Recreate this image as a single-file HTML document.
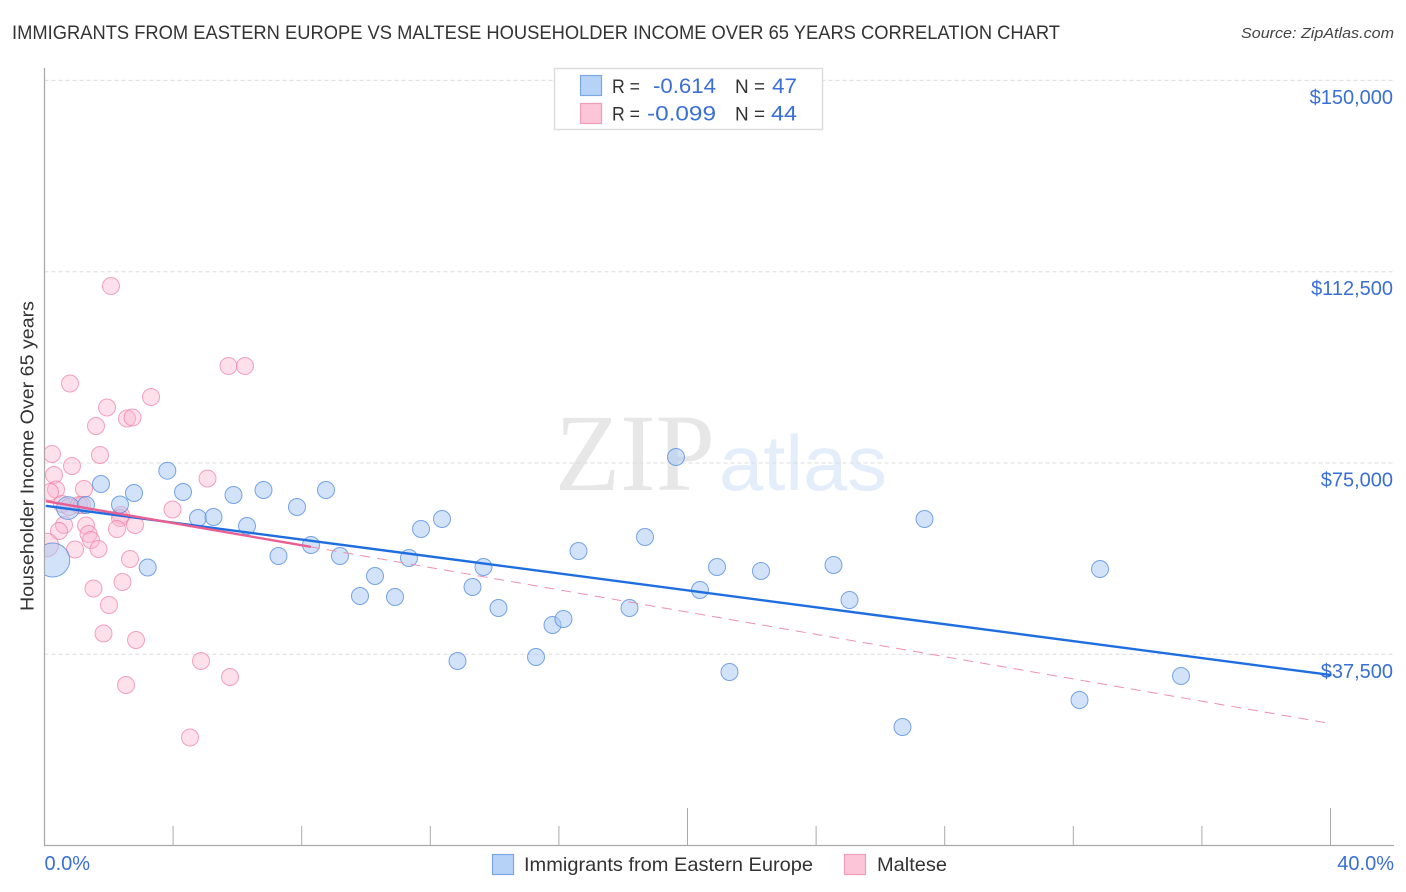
<!DOCTYPE html>
<html lang="en">
<head>
<meta charset="utf-8">
<title>Immigrants from Eastern Europe vs Maltese Householder Income Over 65 Years Correlation Chart</title>
<style>
html,body{margin:0;padding:0;background:#fff;width:1406px;height:892px;overflow:hidden}
svg{display:block;font-family:"Liberation Sans",Arial,sans-serif}
</style>
</head>
<body>
<svg id="chart" width="1406" height="892" viewBox="0 0 1406 892" xmlns="http://www.w3.org/2000/svg">
  <defs>
    <clipPath id="plot-clip"><rect x="45" y="60" width="1360" height="785"></rect></clipPath>
  </defs>
  <rect x="0" y="0" width="1406" height="892" fill="#ffffff"></rect>

  <text x="12" y="39" font-size="19" fill="#333333" textLength="1048" lengthAdjust="spacingAndGlyphs">IMMIGRANTS FROM EASTERN EUROPE VS MALTESE HOUSEHOLDER INCOME OVER 65 YEARS CORRELATION CHART</text>
  <text x="1241" y="38" font-size="15" font-style="italic" fill="#444444" textLength="153" lengthAdjust="spacingAndGlyphs">Source: ZipAtlas.com</text>

  <g>
    <text x="555" y="490" font-family="'Liberation Serif',serif" font-size="110" fill="#e7e7e7" textLength="160" lengthAdjust="spacingAndGlyphs">ZIP</text>
    <text x="719" y="490" font-size="78" fill="#e4edfa" textLength="168" lengthAdjust="spacingAndGlyphs">atlas</text>
  </g>

  <g id="grid"></g>
  <g id="axes"></g>
  <g id="y-labels"></g>
  <g id="x-labels"></g>

  <text transform="translate(33.5,611) rotate(-90)" x="0" y="0" font-size="18" fill="#333333" textLength="310" lengthAdjust="spacingAndGlyphs">Householder Income Over 65 years</text>

  <g id="points" clip-path="url(#plot-clip)"></g>
  <g id="trends"></g>

  <g>
    <rect x="554.5" y="68.5" width="268" height="61" fill="#ffffff" stroke="#dddddd" stroke-width="1.5"></rect>
    <rect x="580.5" y="75.5" width="21" height="20" fill="#b7d2f7" stroke="#7ba8e5" stroke-width="1.2"></rect>
    <rect x="580.5" y="103.5" width="21" height="20" fill="#fcc5d8" stroke="#f09db8" stroke-width="1.2"></rect>
    <text x="612" y="93" font-size="19.5" fill="#333333" textLength="28" lengthAdjust="spacingAndGlyphs">R =</text>
    <text x="653" y="93" font-size="21" fill="#3a6fd6" textLength="63" lengthAdjust="spacingAndGlyphs">-0.614</text>
    <text x="735" y="93" font-size="19.5" fill="#333333" textLength="30" lengthAdjust="spacingAndGlyphs">N =</text>
    <text x="772" y="93" font-size="21" fill="#3a6fd6" textLength="25" lengthAdjust="spacingAndGlyphs">47</text>
    <text x="612" y="120.5" font-size="19.5" fill="#333333" textLength="28" lengthAdjust="spacingAndGlyphs">R =</text>
    <text x="647" y="120.5" font-size="21" fill="#3a6fd6" textLength="69" lengthAdjust="spacingAndGlyphs">-0.099</text>
    <text x="735" y="120.5" font-size="19.5" fill="#333333" textLength="30" lengthAdjust="spacingAndGlyphs">N =</text>
    <text x="771" y="120.5" font-size="21" fill="#3a6fd6" textLength="26" lengthAdjust="spacingAndGlyphs">44</text>
  </g>

  <g>
    <rect x="492.5" y="854.5" width="21" height="20" fill="#b7d2f7" stroke="#7ba8e5" stroke-width="1.2"></rect>
    <text x="524" y="871" font-size="19.5" fill="#333333" textLength="289" lengthAdjust="spacingAndGlyphs">Immigrants from Eastern Europe</text>
    <rect x="844.5" y="854.5" width="21" height="20" fill="#fcc5d8" stroke="#f09db8" stroke-width="1.2"></rect>
    <text x="877" y="871" font-size="19.5" fill="#333333" textLength="70" lengthAdjust="spacingAndGlyphs">Maltese</text>
  </g>
</svg>

<script>
// Percent of immigrants from Eastern Europe
const blueX = [0.255,0.731,1.291,1.757,2.348,2.784,3.21,3.82,4.308,4.774,5.257,5.879,6.299,6.812,7.278,7.854,8.289,8.756,9.191,9.813,10.28,10.902,11.337,11.711,12.364,12.846,13.313,13.655,14.121,15.288,15.801,16.143,16.61,18.196,18.678,19.642,20.389,20.918,21.306,22.286,24.541,25.039,26.687,27.372,32.193,32.831,35.35];
// Householder income over 65, immigrants series
const blueY = [55986,66180,66768,70884,66866,69120,54516,73492,69316,64220,64416,68728,62651,69708,56770,66376,58927,69708,56770,48929,52850,48733,56378,62063,64023,36187,50693,54614,46577,36971,43244,44420,57750,46577,60495,76177,50105,54614,34031,53830,55006,48145,23249,64023,28542,54222,33247];
// Percent Maltese
const pinkX = [2.068,5.723,6.236,0.793,3.313,1.944,2.566,2.737,1.602,0.233,1.726,0.855,0.295,5.07,0.358,0.171,1.229,3.981,0.544,0.762,1.073,1.166,2.379,2.348,0.607,0.451,1.291,1.369,1.446,1.68,0.949,0.07,2.255,2.815,2.659,2.426,1.524,2.006,1.835,2.846,4.868,5.77,2.535,4.526];
// Householder income over 65, Maltese series
const pinkY = [109700,94016,94016,90585,87939,85881,83724,83920,82254,76765,76569,74413,72649,71963,69806,69316,69904,65886,66964,66376,66768,66768,64808,64220,62847,61671,62749,61083,59907,58143,58045,58927,62063,62847,56182,51674,50399,47165,41578,40304,36187,33051,31482,21191];
// Relative sample weight of the larger bubbles (index -> weight); all others are 1
const blueWeights = {0: 4, 1: 1.8};
const pinkWeights = {31: 1.9};
// Trend lines as [percent, income] end points
const blueTrendX = [0.07, 40];
const blueTrendY = [66572, 33443];
const pinkSolidX = [0.07, 8.258];
const pinkSolidY = [67493, 58593];
const pinkDashX = [8.258, 40];
const pinkDashY = [58593, 23935];
// Axis ticks
const yTickValues = [37500, 75000, 112500, 150000];
const yTickLabels = ["$37,500", "$75,000", "$112,500", "$150,000"];
const xTickValues = [0, 4, 8, 12, 16, 20, 24, 28, 32, 36, 40];
const xMajorTicks = [20, 40];
const xEndValues = [0, 40];
const xEndLabels = ["0.0%", "40.0%"];

const NS = "http://www.w3.org/2000/svg";
function xScale(p) { return 44.5 + p * 32.15; }
function yScale(v) { return 845.6 - v * 191.3 / 37500; }
function mk(tag, parent) {
  const el = document.createElementNS(NS, tag);
  document.getElementById(parent).appendChild(el);
  return el;
}
function setAll(el, attrs) {
  for (const k in attrs) el.setAttribute(k, attrs[k]);
}

yTickValues.forEach(function (v, i) {
  const line = mk("line", "grid");
  
  
  setAll(line, {x1: 44.5, x2: 1394, y1: yScale(v), y2: yScale(v), stroke: "#dcdcdc", "stroke-width": 1, "stroke-dasharray": "4 3"});
  const label = mk("text", "y-labels");
  
  
  setAll(label, {x: 1393, y: yScale(v) + 23.5, "text-anchor": "end", "font-size": 20, fill: "#3a6fd6"});
  label.textContent = yTickLabels[i];
});

const yAxis = mk("line", "axes");


setAll(yAxis, {x1: 44.5, x2: 44.5, y1: 68, y2: 845.5, stroke: "#aaaaaa", "stroke-width": 1.3});
const xAxis = mk("line", "axes");


setAll(xAxis, {x1: 44, x2: 1394, y1: 845.5, y2: 845.5, stroke: "#aaaaaa", "stroke-width": 1.3});

xTickValues.forEach(function (v) {
  const tick = mk("line", "axes");
  
  
  const top = xMajorTicks.indexOf(v) >= 0 ? 808 : 826;
  setAll(tick, {x1: xScale(v), x2: xScale(v), y1: top, y2: 845, stroke: "#aaaaaa", "stroke-width": 1});
});

xEndValues.forEach(function (v, i) {
  const label = mk("text", "x-labels");
  
  
  if (i === 0) {
    setAll(label, {x: xScale(v), y: 870, "font-size": 20, fill: "#3a6fd6"});
  } else {
    setAll(label, {x: 1394, y: 870, "text-anchor": "end", "font-size": 20, fill: "#3a6fd6"});
  }
  label.textContent = xEndLabels[i];
});

pinkX.forEach(function (p, i) {
  const c = mk("circle", "points");
  
  
  const w = pinkWeights[i] || 1;
  setAll(c, {cx: xScale(p), cy: yScale(pinkY[i]), r: 8.5 * Math.sqrt(w), fill: "#fbb6cd", "fill-opacity": 0.42, stroke: "#ee7fa3", "stroke-opacity": 0.7, "stroke-width": 1});
});

blueX.forEach(function (p, i) {
  const c = mk("circle", "points");
  
  
  const w = blueWeights[i] || 1;
  setAll(c, {cx: xScale(p), cy: yScale(blueY[i]), r: 8.5 * Math.sqrt(w), fill: "#a5c7f3", "fill-opacity": 0.5, stroke: "#4f88dc", "stroke-opacity": 0.75, "stroke-width": 1});
});

const pinkDash = mk("line", "trends");


setAll(pinkDash, {x1: xScale(pinkDashX[0]), y1: yScale(pinkDashY[0]), x2: xScale(pinkDashX[1]), y2: yScale(pinkDashY[1]), stroke: "#ef8fae", "stroke-width": 1, "stroke-dasharray": "10 7"});

const blueTrend = mk("line", "trends");


setAll(blueTrend, {x1: xScale(blueTrendX[0]), y1: yScale(blueTrendY[0]), x2: xScale(blueTrendX[1]), y2: yScale(blueTrendY[1]), stroke: "#1f6ee0", "stroke-width": 2.4, "stroke-linecap": "round"});

const pinkSolid = mk("line", "trends");


setAll(pinkSolid, {x1: xScale(pinkSolidX[0]), y1: yScale(pinkSolidY[0]), x2: xScale(pinkSolidX[1]), y2: yScale(pinkSolidY[1]), stroke: "#ea5f91", "stroke-width": 2.4, "stroke-linecap": "round"});
</script>
</body>
</html>
